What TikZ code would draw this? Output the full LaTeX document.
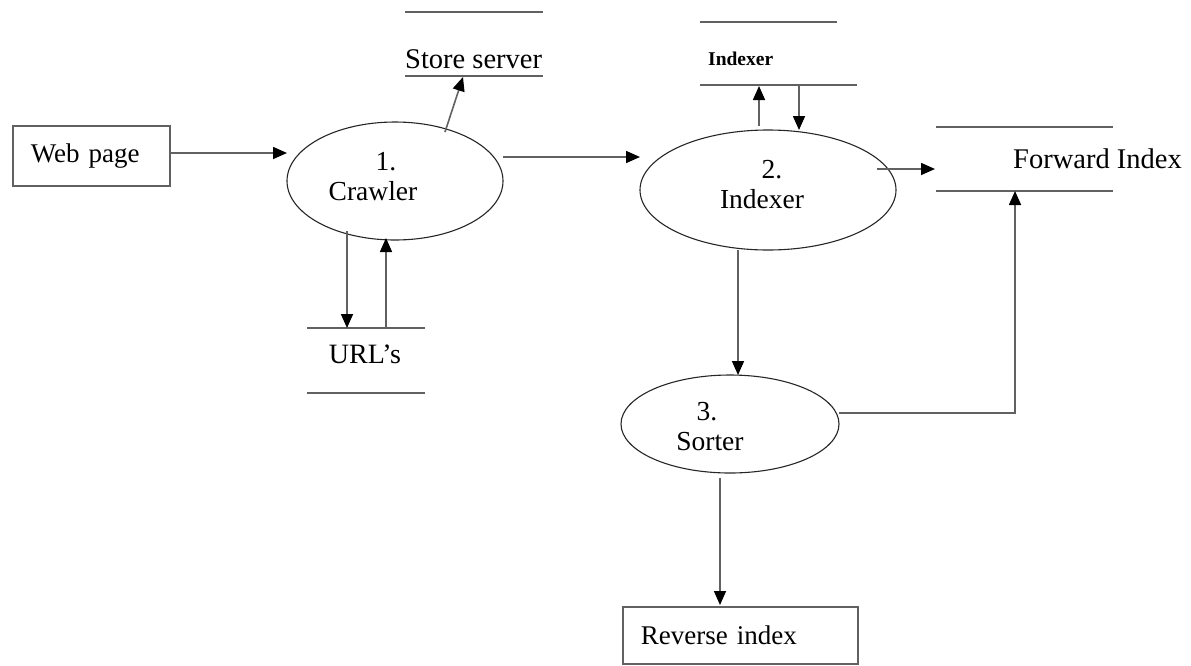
\documentclass[tikz,border=0pt]{standalone}
\usepackage{fontspec}
\setmainfont{Liberation Serif}
\usetikzlibrary{arrows.meta,shapes.geometric}
\begin{document}
\begin{tikzpicture}[x=1pt,y=-1pt,
  line/.style={line width=1.6pt, draw=black!62},
  arr/.style={line, -{Triangle[length=14pt,width=12pt,color=black]}},
  proc/.style={ellipse, draw=black!85, line width=1.1pt, inner sep=0pt},
  txt/.style={inner sep=0pt, font=\fontsize{27.5}{32}\selectfont},
  boxnode/.style={draw=black!62, line width=1.6pt, inner ysep=0pt, inner xsep=18pt, align=left, anchor=north west, font=\fontsize{27}{32}\selectfont},
  storeline/.style={line width=1.6pt, draw=black!62}
  ]
\useasboundingbox (0,0) rectangle (1191,665);

% external entities
\node[boxnode, text width=121pt, minimum height=60pt] (web) at (12,125) {Web page};
\node[boxnode, text width=199pt, minimum height=57pt] (rev) at (622,606) {Reverse index};

% processes
\node[proc, minimum width=216pt, minimum height=118pt] (crawler) at (395,181) {};
\node[txt, anchor=base] (c1) at (386,170) {1.};
\node[txt, anchor=base] (c2) at (373,200) {Crawler};
\node[proc, minimum width=256pt, minimum height=120pt] (indexer) at (768,190) {};
\node[txt, anchor=base] (i1) at (772,178) {2.};
\node[txt, anchor=base] (i2) at (762,208) {Indexer};
\node[proc, minimum width=218pt, minimum height=98pt] (sorter) at (730,424) {};
\node[txt, anchor=base] (s1) at (707,420) {3.};
\node[txt, anchor=base] (s2) at (710,450) {Sorter};

% data stores
\node[txt, font=\fontsize{28.5}{32}\selectfont, anchor=base west] (store) at (405,68) {Store server};
\draw[storeline] (405,12) -- (543,12);
\draw[storeline] (405,76) -- (543,76);
\node[inner sep=0pt, anchor=base west, font=\fontsize{19.5}{23}\selectfont\bfseries] (idxstore) at (708,65) {Indexer};
\draw[storeline] (700,22) -- (837,22);
\draw[storeline] (700,85) -- (857,85);
\node[txt, font=\fontsize{28.5}{32}\selectfont, anchor=base west] (fwd) at (1013,168) {Forward Index};
\draw[storeline] (936,127) -- (1113,127);
\draw[storeline] (936,191) -- (1113,191);
\node[txt, font=\fontsize{28}{32}\selectfont, anchor=base] (url) at (365,363) {URL’s};
\draw[storeline] (307,328) -- (425,328);
\draw[storeline] (307,393) -- (425,393);

% connector end points
\coordinate (webout) at (169,153);
\coordinate (crin) at (287,153);
\coordinate (crout) at (503,157);
\coordinate (ixin) at (640,157);
\coordinate (ixout) at (877,169);
\coordinate (fwin) at (935,169);
\coordinate (ixup0) at (759,126);
\coordinate (ixup1) at (759,86);
\coordinate (ixdn0) at (799,86);
\coordinate (ixdn1) at (799,130);
\coordinate (crdn0) at (347,231);
\coordinate (crdn1) at (347,328);
\coordinate (crup0) at (386,328);
\coordinate (crup1) at (386,238);
\coordinate (crst0) at (445,132);
\coordinate (crst1) at (463,77);
\coordinate (ixso0) at (738,250);
\coordinate (ixso1) at (738,375);
\coordinate (sorv0) at (720,478);
\coordinate (sorv1) at (720,605);
\coordinate (sofw0) at (839,413);
\coordinate (sofwc) at (1015,413);
\coordinate (sofw1) at (1015,191);

\draw[arr] (webout) -- (crin);
\draw[arr] (crout) -- (ixin);
\draw[arr] (ixout) -- (fwin);
\draw[arr] (ixup0) -- (ixup1);
\draw[arr] (ixdn0) -- (ixdn1);
\draw[arr] (crdn0) -- (crdn1);
\draw[arr] (crup0) -- (crup1);
\draw[arr] (crst0) -- (crst1);
\draw[arr] (ixso0) -- (ixso1);
\draw[arr] (sorv0) -- (sorv1);
\draw[arr] (sofw0) -- (sofwc) -- (sofw1);
\end{tikzpicture}
\end{document}
